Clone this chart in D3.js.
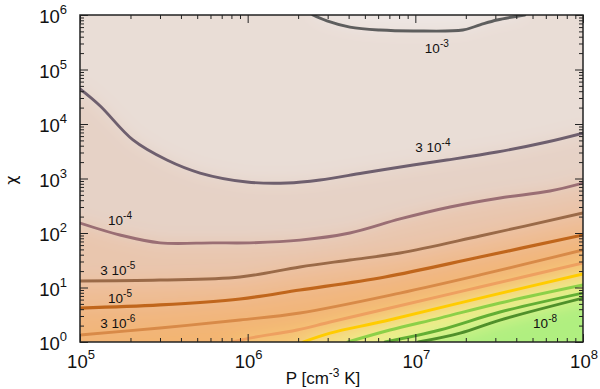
<!DOCTYPE html>
<html>
<head>
<script src="https://cdn.jsdelivr.net/npm/d3@7"></script>
<style>
body { margin: 0; background: #fff; }
text { font-family: "Liberation Sans", Arial, Helvetica, sans-serif; fill: #111; }
</style>
</head>
<body>
<script>
// contour lines, [P, chi] pairs, top to bottom
var line1e3 = [[2.45e6,1e6],[2.97e6,7.8e5],[4.07e6,6.0e5],[6.15e6,5.3e5],[9.7e6,5.1e5],[1.92e7,5.3e5],[2.43e7,6.6e5],[3.07e7,8.1e5],[4.5e7,1e6]];
var line3e4 = [[1e5,4.4e4],[1.32e5,2.14e4],[2.07e5,5.1e3],[3.3e5,2.18e3],[5.2e5,1.26e3],[9.9e5,863],[1.72e6,826],[2.7e6,938],[4.87e6,1.26e3],[9.7e6,1.77e3],[1.54e7,2.18e3],[3.07e7,3.06e3],[6.1e7,4.68e3],[1e8,6.8e3]];
var line1e4 = [[1e5,152],[1.73e5,92],[3.0e5,66],[6.2e5,66],[1.03e6,66],[2.05e6,74],[4.07e6,100],[8.1e6,181],[1.61e7,300],[3.2e7,439],[6.35e7,589],[1e8,826]];
var line3e5 = [[1e5,13.2],[3.0e5,13.7],[9.0e5,15.6],[2.05e6,23.8],[4.07e6,32],[8.1e6,43],[2.43e7,88],[1e8,233]];
var line1e5 = [[1e5,4.2],[3.0e5,4.78],[9.0e5,6.15],[2.05e6,9.0],[6.6e6,15.6],[2.43e7,36.3],[1e8,92]];
var line3e6 = [[1e5,1.34],[3.0e5,1.81],[9.0e5,2.53],[2.05e6,3.41],[8.1e6,7.9],[2.43e7,17],[1e8,48.7]];
var line1e6 = [[8.1e5,1],[1.03e6,1.18],[1.97e6,1.66],[3.1e6,2.33],[7.06e6,4.2],[2.43e7,10.2],[1e8,28.2]];
var line3e7 = [[2.14e6,1],[3.1e6,1.46],[6.6e6,2.43],[2.43e7,6.4],[1e8,17.7]];
var line1e7 = [[3.96e6,1],[7.06e6,1.66],[1.4e7,2.75],[3.2e7,5.2],[1e8,11.1]];
var line3e8 = [[6.6e6,1],[1.4e7,1.66],[3.2e7,3.55],[1e8,7.9]];
var line1e8 = [[1.04e7,1],[1.85e7,1.46],[3.2e7,2.53],[1e8,6.4]];

var contours = [line1e3,line3e4,line1e4,line3e5,line1e5,line3e6,line1e6,line3e7,line1e7,line3e8,line1e8];
var lineColors = ["#5e5e5e","#6e5f6e","#9a6e74","#9a6a48","#c0661c","#d88a48","#eea060","#ffcc00","#8cd048","#62ae34","#4f8f2a"];
// fill of each region, from above 1e-3 down to below 1e-8
var bandColors = ["#ede6e3","#e9ddd6","#e6d2c6","#e9c6ae","#eebd96","#f1b67f","#f3b572","#f6c977","#f4e184","#ecf28e","#d8f48c","#b0ef80"];

// contour labels: text, exponent, [P, chi] of the text start
var labelText = ["10","3 10","10","3 10","10","3 10","10"];
var labelExp = ["-3","-4","-4","-5","-5","-6","-8"];
var labelAt = [[1.14e7,2.0e5],[1e7,3.06e3],[1.47e5,140],[1.32e5,17],[1.47e5,5.2],[1.32e5,1.81],[5.04e7,1.81]];

var xTicks = [1e5,1e6,1e7,1e8], xExp = ["5","6","7","8"];
var yTicks = [1,10,100,1e3,1e4,1e5,1e6], yExp = ["0","1","2","3","4","5","6"];

var width = 600, height = 389;
var L = 80, R = 583, T = 15, B = 342;

var svg = d3.select("body").append("svg")
	.attr("width", width)
	.attr("height", height);

var x = d3.scaleLog().domain([1e5,1e8]).range([L,R]);
var y = d3.scaleLog().domain([1,1e6]).range([B,T]);

var defs = svg.append("defs");
defs.append("clipPath").attr("id","plot")
	.append("rect").attr("x",L).attr("y",T).attr("width",R-L).attr("height",B-T);
defs.append("filter").attr("id","soft")
	.attr("x","-20%").attr("y","-20%").attr("width","140%").attr("height","140%")
	.append("feGaussianBlur").attr("stdDeviation",9);

var pad = 40;
function px(d){ return [x(d[0]), y(d[1])]; }

// filled background made of the bands between contours, blurred into a gradient
var bg = svg.append("g").attr("clip-path","url(#plot)")
	.append("g").attr("filter","url(#soft)");

bg.append("rect")
	.attr("x",L-pad).attr("y",T-pad)
	.attr("width",R-L+2*pad).attr("height",B-T+2*pad)
	.attr("fill",bandColors[1]);

// top bubble above 1e-3
var topPts = contours[0].map(px);
var bubble = [[topPts[0][0],T-pad]].concat(topPts).concat([[topPts[topPts.length-1][0],T-pad]]);
bg.append("path")
	.attr("d","M"+bubble.join("L")+"Z")
	.attr("fill",bandColors[0]);

for (var i = 1; i < contours.length; i++){
	var pts = contours[i].map(px);
	var first = contours[i][0], poly = [];
	if (first[0] <= 1e5) poly.push([L-pad, pts[0][1]]);
	else poly.push([pts[0][0], B+pad]);
	poly = poly.concat(pts);
	poly.push([R+pad, pts[pts.length-1][1]]);
	poly.push([R+pad, B+pad]);
	poly.push([L-pad, B+pad]);
	bg.append("path")
		.attr("d","M"+poly.join("L")+"Z")
		.attr("fill",bandColors[i+1]);
}

// contour lines
var line = d3.line()
	.x(function(d){return x(d[0]);})
	.y(function(d){return y(d[1]);})
	.curve(d3.curveCatmullRom);

svg.append("g").attr("clip-path","url(#plot)")
	.selectAll("path")
	.data(contours)
	.enter()
	.append("path")
	.attr("d",line)
	.attr("fill","none")
	.attr("stroke",function(d,i){return lineColors[i];})
	.attr("stroke-width",function(d,i){return i==4 ? 3.2 : 2.9;})
	.attr("stroke-linecap","round");

// contour labels
labelAt.forEach(function(p,i){
	var t = svg.append("text")
		.attr("x",x(p[0])).attr("y",y(p[1]))
		.style("font-size","13.5px");
	t.append("tspan").text(labelText[i]);
	t.append("tspan").attr("dy",-6).style("font-size","10px").text(labelExp[i]);
});

// ticks on all four sides, pointing inward
var minorX = [], minorY = [];
for (var e = 5; e < 8; e++) for (var k = 2; k < 10; k++) minorX.push(k*Math.pow(10,e));
for (var e = 0; e < 6; e++) for (var k = 2; k < 10; k++) minorY.push(k*Math.pow(10,e));

function axes(gen, scale, pos, major, minor, sign){
	svg.append("g").attr("transform",pos)
		.call(gen(scale).tickValues(major).tickSize(sign*8).tickFormat(""));
	svg.append("g").attr("transform",pos)
		.call(gen(scale).tickValues(minor).tickSize(sign*4).tickFormat(""));
}
axes(d3.axisBottom, x, "translate(0,"+B+")", xTicks, minorX, -1);
axes(d3.axisTop, x, "translate(0,"+T+")", xTicks, minorX, -1);
axes(d3.axisLeft, y, "translate("+L+",0)", yTicks, minorY, -1);
axes(d3.axisRight, y, "translate("+R+",0)", yTicks, minorY, -1);
svg.selectAll(".domain").remove();
svg.selectAll(".tick line").attr("stroke","#222").attr("stroke-width",1);

svg.append("rect")
	.attr("x",L).attr("y",T).attr("width",R-L).attr("height",B-T)
	.attr("fill","none").attr("stroke","#222").attr("stroke-width",1.5);

// tick labels
xTicks.forEach(function(v,i){
	var t = svg.append("text")
		.attr("x",x(v)+1).attr("y",368)
		.attr("text-anchor","middle")
		.style("font-size","18.5px");
	t.append("tspan").text("10");
	t.append("tspan").attr("dy",-9).style("font-size","13px").text(xExp[i]);
});
yTicks.forEach(function(v,i){
	var t = svg.append("text")
		.attr("x",67).attr("y",y(v)+8)
		.attr("text-anchor","end")
		.style("font-size","18.5px");
	t.append("tspan").text("10");
	t.append("tspan").attr("dy",-9).style("font-size","13px").text(yExp[i]);
});

// axis titles
var xt = svg.append("text")
	.attr("x",323).attr("y",384)
	.attr("text-anchor","middle")
	.style("font-size","17px");
xt.append("tspan").text("P [cm");
xt.append("tspan").attr("dy",-7).style("font-size","12px").text("-3");
xt.append("tspan").attr("dy",7).text(" K]");

svg.append("text")
	.attr("transform","translate(17,180) rotate(-90)")
	.attr("text-anchor","middle")
	.style("font-family","'DejaVu Sans', sans-serif")
	.style("font-size","16px")
	.text("\u03c7");
</script>
</body>
</html>
